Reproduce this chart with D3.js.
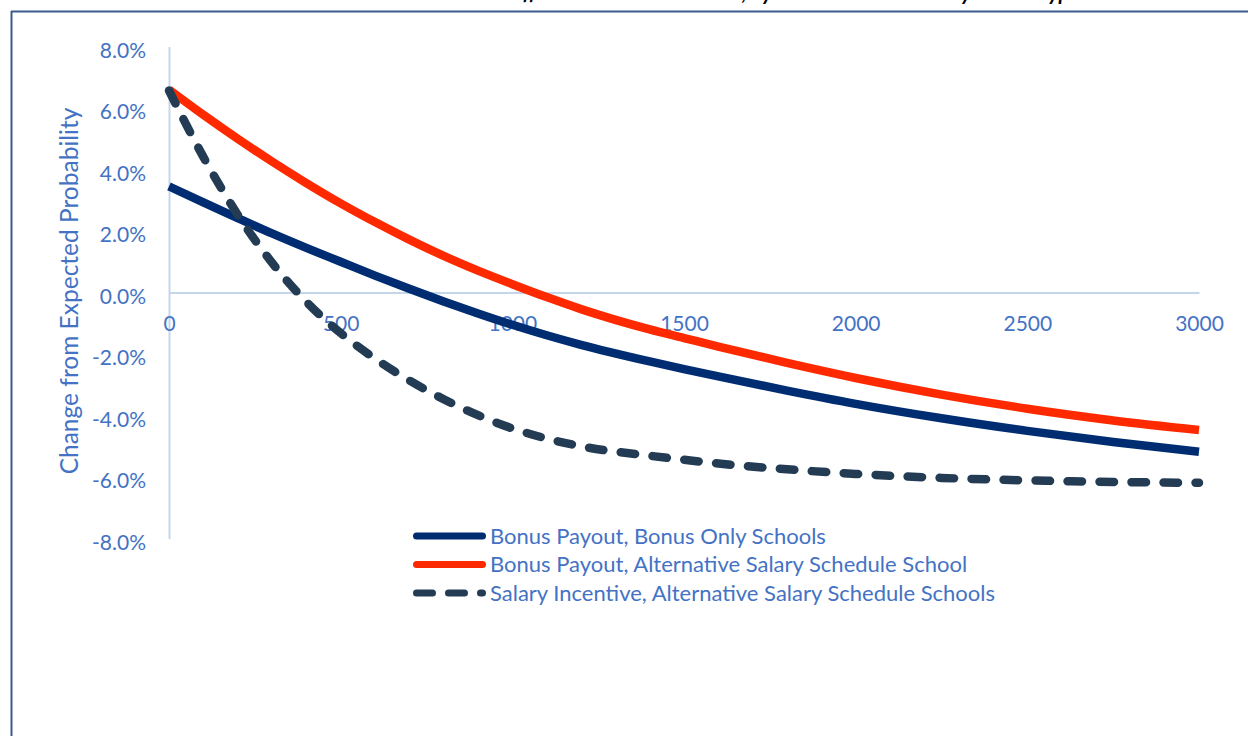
<!DOCTYPE html>
<html>
<head>
<meta charset="utf-8">
<script src="https://cdn.jsdelivr.net/npm/d3@7"></script>
<style>
  html, body { margin: 0; padding: 0; background: #ffffff; }
  svg { display: block; }
  text { font-family: Lato, "Open Sans", sans-serif; }
</style>
</head>
<body>
<svg id="chart" width="1248" height="736"></svg>
<script>
// Incentive amount (dollars) at which each curve is sampled
const amounts = [0, 100, 200, 300, 400, 500, 600, 700, 800, 900, 1000, 1100, 1200,
                 1400, 1500, 1600, 1800, 2000, 2250, 2500, 2750, 3000];

// Change from expected probability, in percent
const bonusOnlySchools = [3.45, 2.93, 2.42, 1.92, 1.45, 1.00, 0.55, 0.12, -0.29, -0.68, -1.05, -1.39, -1.70,
                          -2.24, -2.49, -2.73, -3.19, -3.62, -4.09, -4.50, -4.86, -5.18];
const bonusAltSchedule = [6.60, 5.78, 5.00, 4.26, 3.56, 2.90, 2.29, 1.72, 1.19, 0.71, 0.27, -0.15, -0.54,
                          -1.20, -1.48, -1.76, -2.29, -2.78, -3.32, -3.78, -4.16, -4.47];
const salaryAltSchedule = [6.57, 4.41, 2.53, 0.97, -0.30, -1.32, -2.15, -2.86, -3.47, -3.99, -4.42, -4.75, -5.00,
                           -5.31, -5.44, -5.56, -5.75, -5.90, -6.03, -6.11, -6.16, -6.19];

const seriesLabels = [
  "Bonus Payout, Bonus Only Schools",
  "Bonus Payout, Alternative Salary Schedule School",
  "Salary Incentive, Alternative Salary Schedule Schools"
];
const xTickValues = [0, 500, 1000, 1500, 2000, 2500, 3000];
const yTickValues = [8, 6, 4, 2, 0, -2, -4, -6, -8];
const yAxisTitle = "Change from Expected Probability";
const chartTitle = "Estimated Effect on Teacher Attrition, by Bonus Amount and by School Type";

const svg = d3.select("#chart");

const textBlue = "#4472c4";
const axisBlue = "#c5d5eb";
const series = [
  { name: seriesLabels[0], values: bonusOnlySchools, color: "#002d72", dash: null, keyDash: null },
  { name: seriesLabels[1], values: bonusAltSchedule, color: "#ff2900", dash: null, keyDash: null },
  { name: seriesLabels[2], values: salaryAltSchedule, color: "#233c54", dash: "14.5,17.5", keyDash: "16,16" }
];

// Frame lines around the figure
svg.append("line").attr("x1", 11).attr("x2", 1248).attr("y1", 11.5).attr("y2", 11.5)
  .attr("stroke", "#3b5b8c").attr("stroke-width", 2);
svg.append("line").attr("x1", 11.5).attr("x2", 11.5).attr("y1", 11).attr("y2", 736)
  .attr("stroke", "#3b5b8c").attr("stroke-width", 2);

// Title, sitting above the frame
svg.append("text")
  .attr("x", 1080).attr("y", 0)
  .attr("text-anchor", "end")
  .attr("font-size", 21).attr("font-weight", "bold").attr("font-style", "italic")
  .attr("fill", "#000")
  .text(chartTitle);

const x = d3.scaleLinear().domain([0, 3000]).range([169, 1199]);
const y = d3.scaleLinear().domain([-8, 8]).range([538.5, 46.5]);

const pct = d => (d < 0 ? "-" : "") + Math.abs(d).toFixed(1) + "%";

// Y axis
const yAxis = svg.append("g").attr("transform", `translate(${x(0)},0)`)
  .call(d3.axisLeft(y).tickValues(yTickValues).tickSize(0).tickPadding(23).tickFormat(pct));
yAxis.select(".domain").attr("stroke", axisBlue).attr("stroke-width", 2);
yAxis.selectAll("text").attr("fill", textBlue).attr("font-size", 21)
  .attr("font-family", "Lato, sans-serif").attr("dy", "0.5em");

// X axis drawn through zero
const xAxis = svg.append("g").attr("transform", `translate(0,${y(0)})`)
  .call(d3.axisBottom(x).tickValues(xTickValues).tickSize(0).tickPadding(24)
    .tickFormat(d3.format("d")));
xAxis.select(".domain").attr("stroke", axisBlue).attr("stroke-width", 2);
xAxis.selectAll("text").attr("fill", textBlue).attr("font-size", 21)
  .attr("font-family", "Lato, sans-serif");

// Y axis title
svg.append("text")
  .attr("transform", "translate(78,291) rotate(-90)")
  .attr("text-anchor", "middle")
  .attr("fill", textBlue).attr("font-size", 24.5)
  .text(yAxisTitle);

// Curves
const line = d3.line()
  .x((d, i) => x(amounts[i]))
  .y(d => y(d))
  .curve(d3.curveMonotoneX);

series.forEach(s => {
  svg.append("path")
    .datum(s.values)
    .attr("d", line)
    .attr("fill", "none")
    .attr("stroke", s.color)
    .attr("stroke-width", 8.5)
    .attr("stroke-linecap", s.dash ? "round" : "butt")
    .attr("stroke-linejoin", "round")
    .attr("stroke-dasharray", s.dash);
});

// Legend
const legend = svg.append("g").attr("transform", "translate(0,536)");
series.forEach((s, i) => {
  const row = legend.append("g").attr("transform", `translate(0,${i * 28.5})`);
  row.append("line")
    .attr("x1", 416.5).attr("x2", 482.5).attr("y1", 0).attr("y2", 0)
    .attr("stroke", s.color).attr("stroke-width", 7)
    .attr("stroke-linecap", "round")
    .attr("stroke-dasharray", s.keyDash);
  row.append("text")
    .attr("x", 490).attr("y", 0).attr("dy", "0.36em")
    .attr("fill", textBlue).attr("font-size", 22)
    .text(s.name);
});
</script>
</body>
</html>
